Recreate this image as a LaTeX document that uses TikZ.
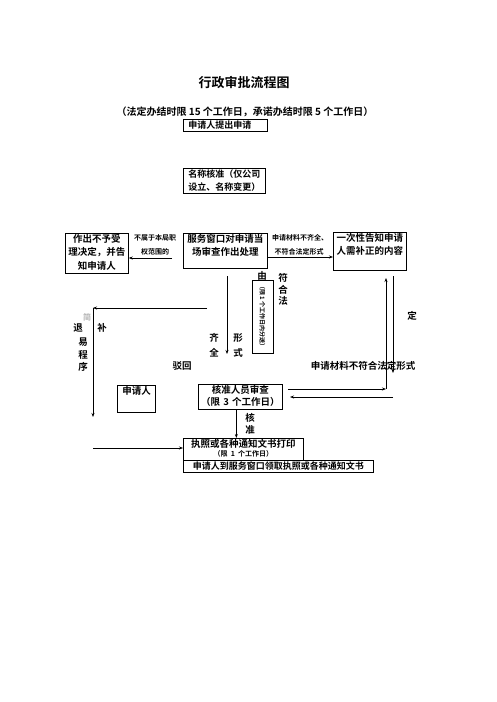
\documentclass[tikz,border=0pt]{standalone}
\usepackage{fontspec}
\setmainfont{Noto Sans CJK SC}[BoldFont={Noto Sans CJK SC Bold}]
\usepackage{tikz}
\usetikzlibrary{arrows.meta,positioning,calc}
\newcommand{\flowfont}{\bfseries\fontsize{9.5}{13.5}\selectfont}
\newcommand{\notefont}{\bfseries\fontsize{7}{9}\selectfont}
\tikzset{
box/.style={draw,line width=0.7pt,anchor=north west,inner xsep=2pt,inner ysep=1pt,align=center},
lbl/.style={inner sep=0pt,align=center},
note/.style={lbl,font=\notefont},
arr/.style={->,>={Stealth[length=4pt,width=3pt]},line width=0.7pt},
}
\tikzstyle{every node}=[font=\flowfont]

\begin{document}
\begin{tikzpicture}[x=1pt,y=-1pt]
        \useasboundingbox (0,0) rectangle (496,702);

        % Heading
        \node[lbl,font=\bfseries\fontsize{13}{15}\selectfont] (title) at (244,82) {行政审批流程图};
        \node[lbl,font=\bfseries\fontsize{10}{12}\selectfont] (limits) at (245,112)
        {（法定办结时限 15 个工作日，承诺办结时限 5 个工作日）};

        % Boxes
        \node[box,align=left,inner xsep=5pt,text width=74pt,text depth=2pt,font=\bfseries\fontsize{9}{13}\selectfont]
        (apply) at (183,119) {申请人提出申请};
        \node[box,align=left,inner xsep=5pt,text width=72pt,text depth=15pt,font=\bfseries\fontsize{9}{13}\selectfont]
        (namecheck) at (183,168) {名称核准（仅公司\\设立、名称变更）};
        \node[box,text width=59pt,text depth=30pt] (reject) at (65,233) {作出不予受\\理决定，并告\\知申请人};
        \node[box,text width=80pt,text depth=25pt] (service) at (183,233) {服务窗口对申请当\\场审查作出处理};
        \node[box,text width=69pt,text depth=28pt] (notify) at (333,232) {一次性告知申请\\人需补正的内容};
        \node[box,align=left,inner xsep=5pt,text width=28pt,text depth=17pt] (petitioner) at (117,385) {申请人};
        \node[box,text width=80pt,text depth=15pt] (review) at (198,384) {核准人员审查\\[-2pt]（限 3 个工作日）};
        \node[box,text width=116pt,text depth=12pt] (print) at (183,438)
        {执照或各种通知文书打印\\[-5pt]{\notefont（限 1 个工作日）}};
        \node[box,text width=186pt,text depth=2pt,font=\bfseries\fontsize{9}{13}\selectfont]
        (collect) at (183,460) {申请人到服务窗口领取执照或各种通知文书};
        \node[draw,line width=0.7pt,rotate=-90,minimum width=73pt,minimum height=21pt,inner sep=0pt,
        font=\bfseries\fontsize{6}{7}\selectfont] (handover) at (262.5,316.5) {（限 1 个工作日内分送）};

        % Labels
        \node[note] (outscope a) at (155,238) {不属于本局职};
        \node[note] (outscope b) at (155,252) {权范围的};
        \node[note] (incomplete a) at (300,238) {申请材料不齐全、};
        \node[note] (incomplete b) at (299,252) {不符合法定形式};
        \node[lbl] (by) at (262,276) {由};
        \node[lbl] (complete) at (214,345.5) {齐\\[1.5pt]全};
        \node[lbl] (form) at (238,345.5) {形\\[1.5pt]式};
        \node[lbl] (dismiss) at (182,366) {驳回};
        \node[lbl] (illegal) at (363,366) {申请材料不符合法定形式};
        \node[lbl] (fixed) at (412,316) {定};
        \node[lbl,font=\bfseries\fontsize{8}{10}\selectfont,text=gray!60] (simple) at (87,317) {简};
        \node[lbl] (supplement) at (102,328) {补};
        \foreach \ch/\x/\y [count=\i] in {符/283/278,合/283/290,法/283/301}
            \node[lbl] (legal\i) at (\x,\y) {\ch};
        \foreach \ch/\x/\y [count=\i] in {退/78/328,易/83/342,程/83/355,序/83/367}
            \node[lbl] (withdraw\i) at (\x,\y) {\ch};
        \node[lbl] (approved) at (250,424) {核\\[-1.5pt]准};

        % Free ends of connectors
        \coordinate (svc down) at (227,276);
        \coordinate (svc end) at (227,354);
        \coordinate (back start) at (207,308);
        \coordinate (back corner) at (93,308);
        \coordinate (back end) at (93,417);
        \coordinate (scope start) at (172,258);
        \coordinate (mid row) at (0,257);
        \coordinate (up foot) at (386,389);
        \coordinate (up tip) at (386,278);
        \coordinate (down start) at (393,276);
        \coordinate (down tip) at (393,373);
        \coordinate (right start) at (288,389);
        \coordinate (left start) at (393,397);
        \coordinate (left end) at (290,397);
        \coordinate (feed start) at (93,448);

        % Connectors
        \draw[arr] (scope start) -- (scope start -| reject.east);
        \draw[arr] (service.east |- mid row) -- (notify.west |- mid row);
        \draw[arr] (svc down) -- (svc end);
        \draw[arr] (back start) -- (back corner);
        \draw[arr] (back corner) -- (back end);
        \draw[arr] (up foot) -- (up tip);
        \draw[arr] (down start) -- (down tip);
        \draw[arr] (right start) -- (up foot);
        \draw[arr] (left start) -- (left end);
        \draw[arr] ([xshift=-4pt]review.south) -- ([xshift=-4pt]review.south |- print.north);
        \draw[arr] (feed start) -- (print.west |- feed start);

\end{tikzpicture}
\end{document}
